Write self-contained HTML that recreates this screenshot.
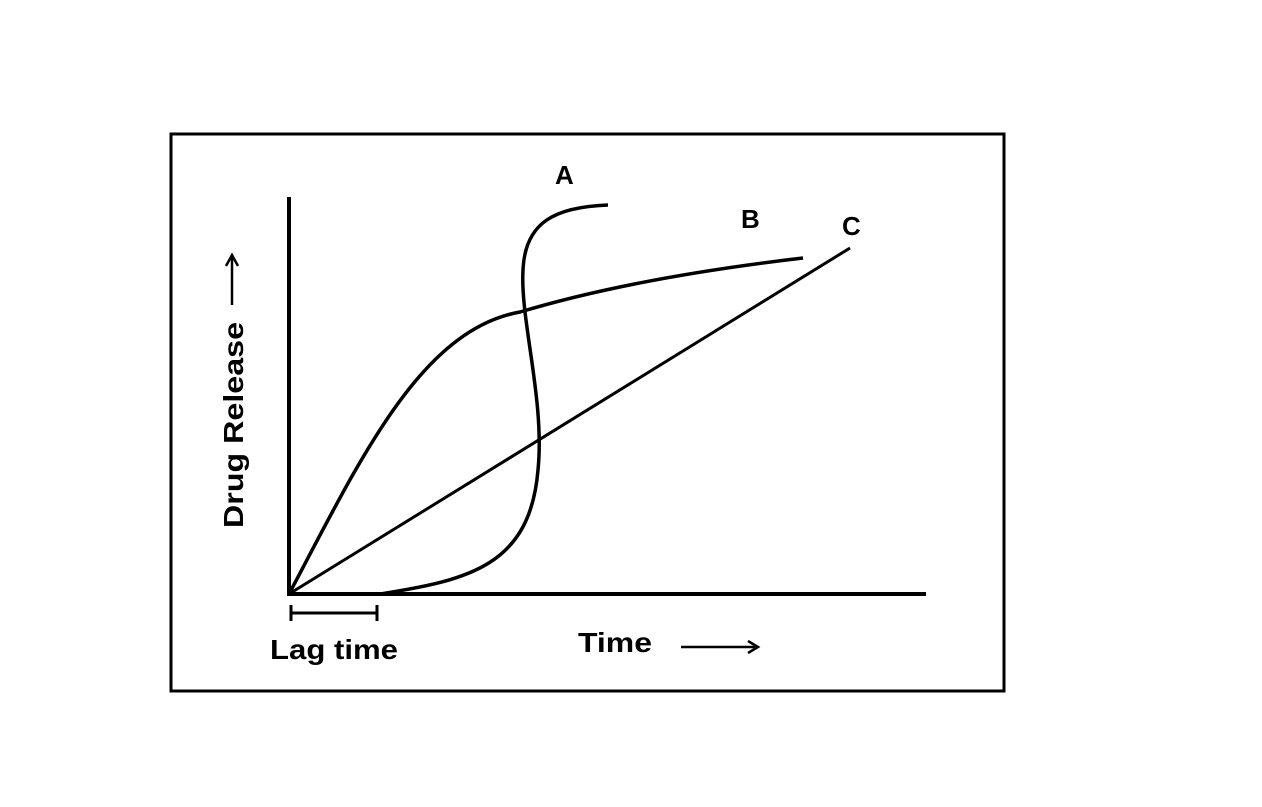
<!DOCTYPE html>
<html><head><style>body{margin:0;background:#fff}svg{display:block}</style></head><body>
<svg width="1262" height="807" viewBox="0 0 1262 807" xmlns="http://www.w3.org/2000/svg">
<rect x="0" y="0" width="1262" height="807" fill="#fff"/>
<rect x="171" y="134" width="833" height="557" fill="none" stroke="#000" stroke-width="3"/>
<line x1="289" y1="197" x2="289" y2="596" stroke="#000" stroke-width="4"/>
<line x1="287" y1="594" x2="926" y2="594" stroke="#000" stroke-width="4"/>
<g fill="none" stroke="#000" stroke-width="3.5">
<path d="M380,594 C470,580 530,565 538,470 C545,400 520,320 523,270 C525,222 555,207 608,205"/>
<path d="M289,594 C360,460 420,330 520,312 C600,288 700,270 803,258"/>
<line x1="289" y1="594" x2="850" y2="248" stroke-width="3"/>
</g>
<g stroke="#000" stroke-width="3">
<line x1="290" y1="613" x2="378" y2="613"/>
<line x1="291" y1="605" x2="291" y2="621"/>
<line x1="377" y1="605" x2="377" y2="621"/>
<line x1="681" y1="647" x2="755" y2="647" stroke-width="2.5"/>
<path d="M748,641 L758,647 L748,653" fill="none" stroke-width="2.5"/>
<line x1="232" y1="305" x2="232" y2="258" stroke-width="2.5"/>
<path d="M226,266 L232,255 L238,266" fill="none" stroke-width="2.5"/>
</g>
<g font-family="Liberation Sans, sans-serif" font-weight="bold" fill="#000">
<text x="555" y="184" font-size="26">A</text>
<text x="741" y="228" font-size="26">B</text>
<text x="842" y="235" font-size="26">C</text>
<text x="270" y="659" font-size="28" textLength="128" lengthAdjust="spacingAndGlyphs">Lag time</text>
<text x="578" y="652" font-size="28" textLength="74" lengthAdjust="spacingAndGlyphs">Time</text>
<text transform="translate(243,528) rotate(-90)" font-size="28" textLength="206" lengthAdjust="spacingAndGlyphs">Drug Release</text>
</g>
</svg>
</body></html>
